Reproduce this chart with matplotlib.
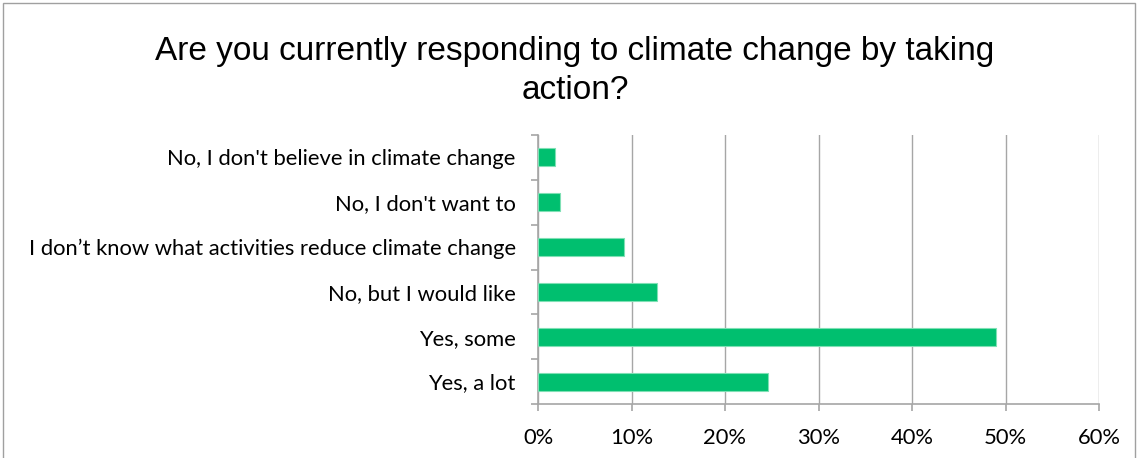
import matplotlib
matplotlib.use("Agg")
import matplotlib.pyplot as plt
from matplotlib.patches import Rectangle
from matplotlib.ticker import FuncFormatter
from matplotlib import font_manager

categories = [
    "No, I don't believe in climate change",
    "No, I don't want to",
    "I don\u2019t know what activities reduce climate change",
    "No, but I would like",
    "Yes, some",
    "Yes, a lot",
]
values = [1.8, 2.3, 9.2, 12.7, 49.0, 24.6]
xticks = [0, 10, 20, 30, 40, 50, 60]
title = "Are you currently responding to climate change by taking\naction?"

names = {f.name for f in font_manager.fontManager.ttflist}
title_font = "Liberation Sans"
label_font = "Lato" if "Lato" in names else "DejaVu Sans"

W, H = 1138, 458
fig = plt.figure(figsize=(W / 100, H / 100), dpi=100)
ax = fig.add_axes([538 / W, 1 - 404 / H, (1099 - 538) / W, (404 - 135) / H])

pos = list(range(len(categories)))
ax.barh(pos, values, height=0.4, color="#00BF6F", edgecolor="#7FE0B5", linewidth=0.8, zorder=3)
ax.set_ylim(len(categories) - 0.5, -0.5)
ax.set_xlim(0, 60)
ax.set_xticks(xticks)
ax.xaxis.set_major_formatter(FuncFormatter(lambda v, p: f"{v:.0f}%"))
ax.set_yticks(pos)
ax.set_yticklabels(categories)
ax.set_yticks([p - 0.5 for p in range(len(categories) + 1)], minor=True)

gc = "#A6A6A6"
ax.grid(axis="x", color=gc, linewidth=1.0, zorder=0)
for s in ["top", "right"]:
    ax.spines[s].set_visible(False)
for s in ["left", "bottom"]:
    ax.spines[s].set_color(gc)
    ax.spines[s].set_linewidth(1.2)
ax.tick_params(axis="y", which="major", length=0, pad=16)
ax.tick_params(axis="y", which="minor", length=5, color=gc, width=1.2)
ax.tick_params(axis="x", length=5, color=gc, width=1.2, pad=12)
for lab in ax.get_yticklabels() + ax.get_xticklabels():
    lab.set_fontfamily(label_font)
    lab.set_fontsize(15.8)
    lab.set_color("#000000")

fig.text(575 / W, 1 - 71 / H, title, ha="center", va="center", fontsize=24,
         fontfamily=title_font, linespacing=1.3)

fig.patches.append(Rectangle((3 / W, -0.1), (1135 - 3) / W, 1.1 - 3 / H,
                             transform=fig.transFigure, fill=False,
                             edgecolor="#A0A0A0", linewidth=1.0))

fig.savefig("out.png", dpi=100)
